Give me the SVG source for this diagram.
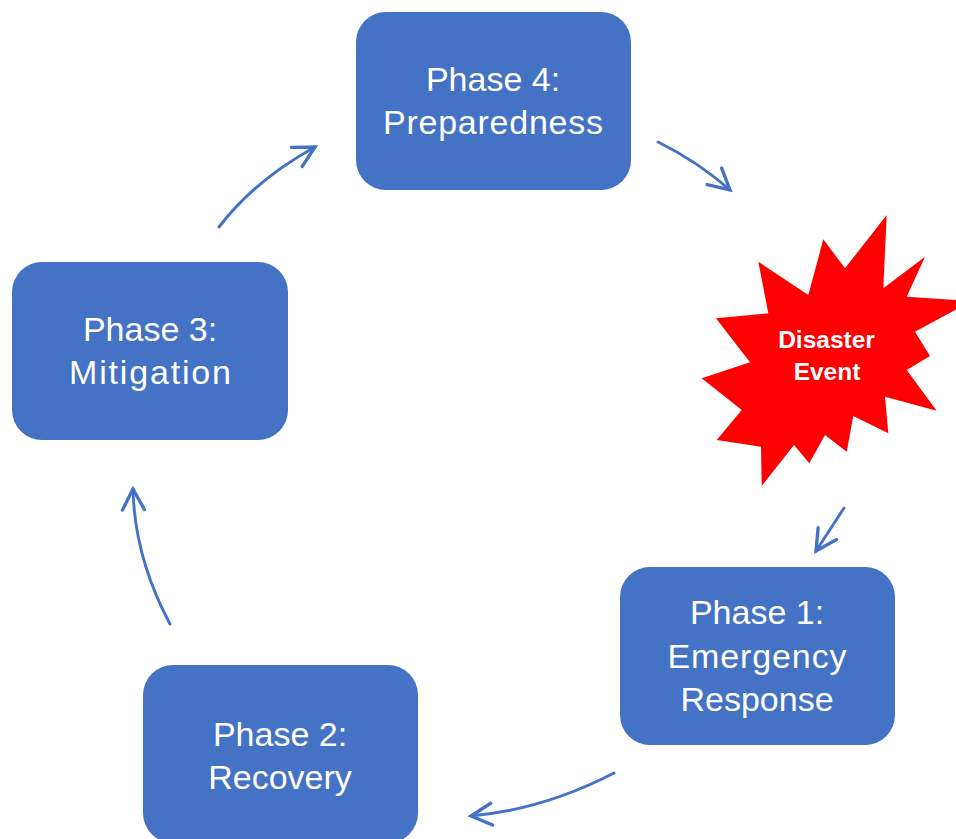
<svg xmlns="http://www.w3.org/2000/svg" width="956" height="839" viewBox="0 0 956 839">
<style>
.box{fill:#4472C4;}
.lbl{font-family:"Liberation Sans",Arial,sans-serif;font-size:34px;fill:#ffffff;text-anchor:middle;}
.star{fill:#FF0000;}
.slbl{font-family:"Liberation Sans",Arial,sans-serif;font-size:24.5px;font-weight:bold;fill:#ffffff;text-anchor:middle;}
.conn{fill:none;stroke:#4472C4;stroke-width:2.9;stroke-linecap:round;marker-end:url(#head);}
</style>
<defs>
<marker id="head" markerUnits="userSpaceOnUse" markerWidth="30" markerHeight="30" viewBox="-22 -12 26 24" refX="0" refY="0" orient="auto">
<path d="M-18,-9.5 L0,0 L-18,9.5" fill="none" stroke="#4472C4" stroke-width="2.9" stroke-linecap="round" stroke-linejoin="miter"/>
</marker>
</defs>
<rect width="956" height="839" fill="#ffffff"/>
<g id="phase4">
<rect class="box" x="356" y="12" width="275" height="178" rx="30"/>
<text class="lbl" x="493" y="91">Phase 4:</text>
<text class="lbl" x="493" y="134" textLength="220" lengthAdjust="spacing">Preparedness</text>
</g>
<g id="phase3">
<rect class="box" x="12" y="262" width="276" height="178" rx="30"/>
<text class="lbl" x="150" y="341">Phase 3:</text>
<text class="lbl" x="150" y="384" textLength="162" lengthAdjust="spacing">Mitigation</text>
</g>
<g id="phase1">
<rect class="box" x="620" y="567" width="275" height="178" rx="30"/>
<text class="lbl" x="757" y="624">Phase 1:</text>
<text class="lbl" x="757" y="668" textLength="179" lengthAdjust="spacing">Emergency</text>
<text class="lbl" x="757" y="711">Response</text>
</g>
<g id="phase2">
<rect class="box" x="143" y="665" width="275" height="178" rx="30"/>
<text class="lbl" x="280" y="746">Phase 2:</text>
<text class="lbl" x="280" y="789">Recovery</text>
</g>
<g id="disaster">
<polygon class="star" points="886.7,215 883.3,288.3 925,256.7 906.7,296.7 972,301 915,331.7 930,356 906.7,370 936.7,410.7 885,396.7 888.3,433.3 853.3,416 846.7,451.7 825,435 809.3,463.3 794,445 761.7,486 761,446.7 716.7,440 741.7,410 701.7,378.3 750,362.3 716,318.3 768.3,313.3 758.3,261.7 808.3,295 823.3,239.3 845,268.3"/>
<text class="slbl" x="826.5" y="347.5">Disaster</text>
<text class="slbl" x="827" y="380">Event</text>
</g>
<g id="connectors">
<path class="conn" d="M658,142 Q697,161 730,190"/>
<path class="conn" d="M844,508 L816,551"/>
<path class="conn" d="M614,773 Q543.5,809.5 471,816"/>
<path class="conn" d="M170,624 Q134.5,557.5 133,489"/>
<path class="conn" d="M219,227 Q255,180 315,147"/>
</g>
</svg>
